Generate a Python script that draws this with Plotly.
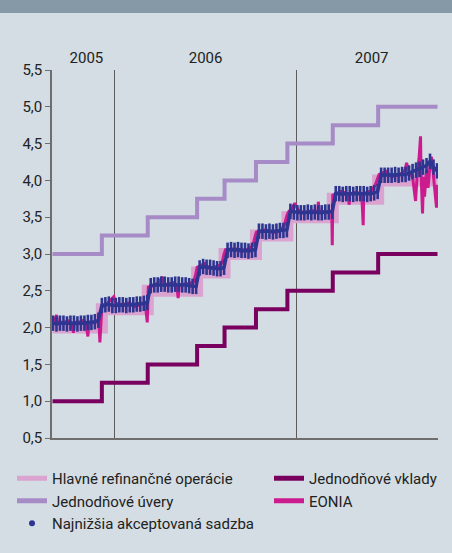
import pandas as pd
import plotly.graph_objects as go

# ---- data -------------------------------------------------------------
rate_dates = ["2005-08-29", "2005-12-06", "2006-03-08", "2006-06-15", "2006-08-09",
              "2006-10-11", "2006-12-13", "2007-03-14", "2007-06-13", "2007-10-10"]
mro_rate = [2.00, 2.25, 2.50, 2.75, 3.00, 3.25, 3.50, 3.75, 4.00, 4.00]
marginal_lending = [3.00, 3.25, 3.50, 3.75, 4.00, 4.25, 4.50, 4.75, 5.00, 5.00]
deposit_facility = [1.00, 1.25, 1.50, 1.75, 2.00, 2.25, 2.50, 2.75, 3.00, 3.00]

tender_start, tender_end = "2005-08-30", "2007-10-09"
lowest_accepted = [
    2.06, 2.05, 2.06, 2.06, 2.05, 2.06, 2.06, 2.05, 2.06, 2.06, 2.07, 2.07, 2.08, 2.10,
    2.30, 2.31, 2.32, 2.30, 2.30, 2.31, 2.31, 2.30, 2.31, 2.31, 2.32, 2.32, 2.33, 2.34,
    2.57, 2.58, 2.58, 2.59, 2.59, 2.58, 2.58, 2.59, 2.59, 2.58, 2.58, 2.57, 2.56, 2.56,
    2.81, 2.83, 2.82, 2.82, 2.81, 2.80, 2.80, 2.82,
    3.05, 3.06, 3.05, 3.06, 3.05, 3.05, 3.04, 3.05, 3.06,
    3.31, 3.31, 3.30, 3.31, 3.30, 3.31, 3.32, 3.32, 3.33,
    3.58, 3.57, 3.56, 3.56, 3.56, 3.57, 3.56, 3.57, 3.56, 3.56, 3.57, 3.57, 3.58,
    3.82, 3.82, 3.81, 3.82, 3.82, 3.81, 3.82, 3.82, 3.82, 3.81, 3.82, 3.83, 3.85,
    4.07, 4.07, 4.07, 4.07, 4.08, 4.07, 4.08, 4.08, 4.10, 4.12, 4.14, 4.15, 4.18,
    4.20, 4.26, 4.18, 4.13,
]

eonia_dates = [
    "2005-08-29", "2005-09-02", "2005-09-06", "2005-09-08", "2005-09-20", "2005-09-30",
    "2005-10-07", "2005-10-10", "2005-10-12", "2005-10-25", "2005-10-31", "2005-11-04",
    "2005-11-08", "2005-11-10", "2005-11-22", "2005-11-30", "2005-12-02", "2005-12-06",
    "2005-12-13", "2005-12-20", "2005-12-30", "2006-01-03", "2006-01-16", "2006-01-31",
    "2006-02-08", "2006-02-20", "2006-03-03", "2006-03-07", "2006-03-09", "2006-03-20",
    "2006-03-31", "2006-04-06", "2006-04-10", "2006-04-28", "2006-05-05", "2006-05-08",
    "2006-05-10", "2006-05-31", "2006-06-08", "2006-06-12", "2006-06-15", "2006-06-30",
    "2006-07-11", "2006-07-31", "2006-08-04", "2006-08-08", "2006-08-11", "2006-08-31",
    "2006-09-12", "2006-09-29", "2006-10-05", "2006-10-10", "2006-10-12", "2006-10-31",
    "2006-11-14", "2006-11-30", "2006-12-07", "2006-12-12", "2006-12-15", "2006-12-22",
    "2006-12-28", "2007-01-03", "2007-01-16", "2007-01-31", "2007-02-12", "2007-02-13",
    "2007-02-15", "2007-02-28", "2007-03-12", "2007-03-13", "2007-03-14", "2007-03-30",
    "2007-04-13", "2007-04-16", "2007-04-17", "2007-04-30", "2007-05-11", "2007-05-14",
    "2007-05-15", "2007-05-31", "2007-06-08", "2007-06-12", "2007-06-15", "2007-06-29",
    "2007-07-10", "2007-07-20", "2007-07-31", "2007-08-06", "2007-08-09", "2007-08-14",
    "2007-08-21", "2007-08-27", "2007-08-31", "2007-09-03", "2007-09-06", "2007-09-07",
    "2007-09-10", "2007-09-12", "2007-09-14", "2007-09-18", "2007-09-21", "2007-09-25",
    "2007-09-28", "2007-10-02", "2007-10-05", "2007-10-08", "2007-10-10",
]
eonia = [
    2.08, 2.09, 2.17, 2.08, 2.07, 2.09,
    2.06, 1.93, 2.07, 2.08, 2.10, 2.06,
    1.88, 2.06, 2.07, 2.09, 1.80, 2.28,
    2.30, 2.35, 2.42, 2.33, 2.31, 2.34,
    2.28, 2.31, 2.33, 2.07, 2.55, 2.57,
    2.62, 2.69, 2.58, 2.61, 2.58, 2.40,
    2.58, 2.60, 2.62, 2.72, 2.82, 2.87,
    2.80, 2.85, 2.88, 3.00, 3.06, 3.07,
    3.03, 3.08, 3.12, 3.26, 3.30, 3.33,
    3.29, 3.32, 3.40, 3.52, 3.57, 3.62,
    3.69, 3.60, 3.56, 3.59, 3.57, 3.71,
    3.57, 3.58, 3.57, 3.12, 3.80, 3.85,
    3.82, 3.67, 3.82, 3.84, 3.82, 3.39,
    3.82, 3.86, 3.95, 4.03, 4.08, 4.12,
    4.05, 4.07, 4.10, 4.14, 4.24, 4.10,
    4.05, 3.72, 4.15, 4.30, 4.60, 4.10,
    3.55, 4.05, 3.78, 4.15, 3.90, 4.20,
    4.32, 4.05, 3.85, 3.63, 3.94,
]

year_boundaries = ["2006-01-01", "2007-01-01"]
year_label_pos = ["2005-11-05", "2006-07-02", "2007-05-31"]
year_labels = ["2005", "2006", "2007"]
x_range = ["2005-08-28", "2007-10-11"]
y_ticks = [0.5, 1.0, 1.5, 2.0, 2.5, 3.0, 3.5, 4.0, 4.5, 5.0, 5.5]

name_mro = "Hlavné refinančné operácie"
name_marg = "Jednodňové úvery"
name_low = "Najnižšia akceptovaná sadzba"
name_dep = "Jednodňové vklady"
name_eonia = "EONIA"

# ---- styling ----------------------------------------------------------
C_MRO = "#dba3cf"
C_MARG = "#a68bc7"
C_DEP = "#7a0060"
C_EONIA = "#cc1b8e"
C_LOW = "#2e3591"
BG = "#d3dde3"
FONT = "Roboto"
FS = 15

tender_dates = pd.date_range(tender_start, tender_end, freq="7D")

fig = go.Figure()
fig.add_trace(go.Scatter(x=rate_dates, y=mro_rate, mode="lines", line_shape="hv",
                         line=dict(color=C_MRO, width=12), showlegend=False))
fig.add_trace(go.Scatter(x=rate_dates, y=marginal_lending, mode="lines", line_shape="hv",
                         line=dict(color=C_MARG, width=4), showlegend=False))
fig.add_trace(go.Scatter(x=rate_dates, y=deposit_facility, mode="lines", line_shape="hv",
                         line=dict(color=C_DEP, width=4), showlegend=False))
fig.add_trace(go.Scatter(x=eonia_dates, y=eonia, mode="lines",
                         line=dict(color=C_EONIA, width=3), showlegend=False))
fig.add_trace(go.Scatter(x=tender_dates, y=lowest_accepted, mode="lines+markers",
                         line=dict(color=C_LOW, width=3.5),
                         marker=dict(symbol="line-ns", size=11,
                                     line=dict(color=C_LOW, width=2.6)),
                         showlegend=False))

# legend entries (two columns = two legends)
legend_entries = [
    (name_mro, "legend", dict(mode="lines", line=dict(color=C_MRO, width=5))),
    (name_marg, "legend", dict(mode="lines", line=dict(color=C_MARG, width=5))),
    (name_low, "legend", dict(mode="markers", marker=dict(color=C_LOW, size=6))),
    (name_dep, "legend2", dict(mode="lines", line=dict(color=C_DEP, width=5))),
    (name_eonia, "legend2", dict(mode="lines", line=dict(color=C_EONIA, width=5))),
]
for nm, lg, st in legend_entries:
    fig.add_trace(go.Scatter(x=[None], y=[None], name=nm, legend=lg,
                             showlegend=True, **st))

# year label axis (top)
fig.add_trace(go.Scatter(x=[None], y=[None], xaxis="x2", showlegend=False))

H_PLOT = 368
W_PLOT = 386
legend_common = dict(orientation="v", yref="container", xref="container",
                     yanchor="top", xanchor="left", bgcolor="rgba(0,0,0,0)",
                     font=dict(size=FS, color="#222222"), tracegroupgap=0)
fig.update_layout(
    width=452, height=553,
    margin=dict(l=52, r=14, t=70, b=115, autoexpand=False),
    paper_bgcolor=BG, plot_bgcolor=BG,
    separators=", ",
    font=dict(family=FONT, size=FS, color="#222222"),
    xaxis=dict(type="date", range=x_range, tickvals=year_boundaries,
               showticklabels=False, ticks="", showgrid=True,
               gridcolor="#5c5c5c", gridwidth=1.2,
               showline=True, linecolor="#6e6e6e", linewidth=1.6,
               zeroline=False, automargin=False),
    xaxis2=dict(type="date", range=x_range, overlaying="x", side="top",
                anchor="y", tickvals=year_label_pos, ticktext=year_labels,
                ticks="", showline=False, showgrid=False, zeroline=False,
                ticklabelstandoff=3, automargin=False,
                tickfont=dict(size=FS, color="#222222")),
    yaxis=dict(range=[0.5, 5.5], tickvals=y_ticks, tickformat=".1f",
               ticks="outside", ticklen=5, tickwidth=1.4, tickcolor="#6e6e6e",
               showline=True, linecolor="#6e6e6e", linewidth=1.6,
               showgrid=False, zeroline=False, automargin=False,
               tickfont=dict(size=FS, color="#222222")),
    legend=dict(x=12 / 452, y=1 - 462 / 553, **legend_common),
    legend2=dict(x=269 / 452, y=1 - 462 / 553, **legend_common),
    shapes=[dict(type="rect", xref="paper", yref="paper",
                 x0=-52 / W_PLOT, x1=1 + 14 / W_PLOT,
                 y0=1 + 57 / H_PLOT, y1=1 + 70 / H_PLOT,
                 fillcolor="#8599a6", line=dict(width=0), layer="below")],
    showlegend=True,
)

fig.write_html("out.html", config={"displayModeBar": False},
               post_script="document.body.style.margin='0';")
